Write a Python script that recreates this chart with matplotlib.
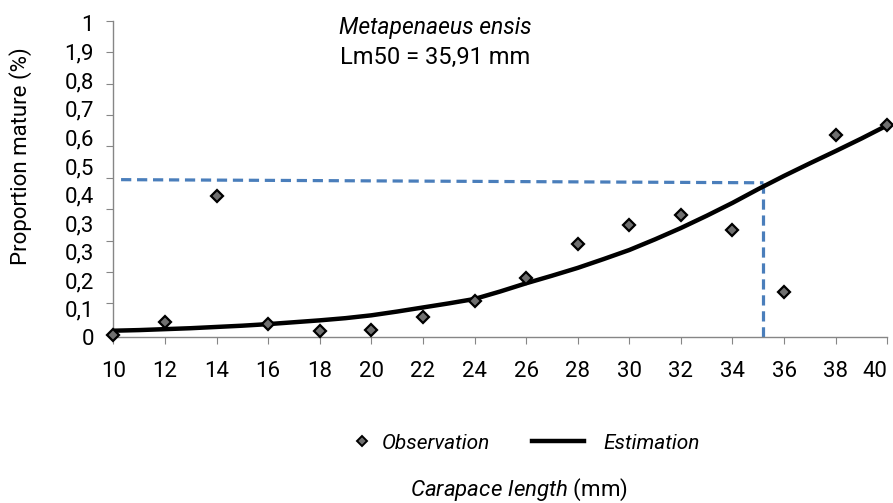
import numpy as np
import matplotlib
matplotlib.use('Agg')
import matplotlib.pyplot as plt
from matplotlib.lines import Line2D

plt.rcParams['font.family'] = ['Roboto', 'DejaVu Sans']
plt.rcParams['mathtext.fontset'] = 'custom'
plt.rcParams['mathtext.rm'] = 'Roboto'
plt.rcParams['mathtext.it'] = 'Roboto:italic'

# carapace length classes (mm) and observed proportion mature
length = [10, 12, 14, 16, 18, 20, 22, 24, 26, 28, 30, 32, 34, 36, 38, 40]
observed = [0.0, 0.042, 0.442, 0.033, 0.013, 0.016, 0.057, 0.109,
            0.181, 0.288, 0.349, 0.383, 0.334, 0.137, 0.637, 0.667]

est_length = list(range(10, 41))
estimated = [0.013, 0.015, 0.018, 0.021, 0.025, 0.029, 0.034, 0.040,
             0.046, 0.053, 0.062, 0.074, 0.087, 0.100, 0.114, 0.138,
             0.164, 0.188, 0.213, 0.241, 0.270, 0.304, 0.340, 0.379,
             0.420, 0.464, 0.506, 0.546, 0.585, 0.625, 0.667]

lm50 = 35.2
lm50_y = [0.494, 0.484]

ytick_pos = np.arange(0, 1.01, 0.1)
ylabel_text = ['0', '0,1', '0,2', '0,3', '0,3', '0,4', '0,5', '0,6',
               '0,7', '0,8', '1,9', '1']

fs = 16

fig = plt.figure(figsize=(8.93, 5.03), dpi=100)
ax = fig.add_axes([0.1269, 0.3294, 0.8667, 0.6294])

ax.plot(est_length, estimated, color='black', lw=3.2, solid_capstyle='round',
        solid_joinstyle='round', zorder=3)
ax.plot(length, observed, ls='none', marker='D', markersize=6.5,
        markerfacecolor='#707070', markeredgecolor='black', markeredgewidth=1.6,
        zorder=4, clip_on=False)

blue = '#4a7ebb'
ax.plot([10.3, lm50], lm50_y, color=blue, lw=2.3, ls=(0, (3.2, 1.8)), zorder=2)
ax.plot([lm50, lm50], [lm50_y[1], -0.008], color=blue, lw=2.3,
        ls=(0, (3.2, 1.8)), zorder=2, clip_on=False)

ax.set_xlim(10, 40)
ax.set_ylim(0, 1)
ax.set_xticks(length)
ax.tick_params(axis='x', direction='out', length=5, color='#868686',
               labelsize=fs, pad=12)
ax.get_xticklabels()[-1].set_horizontalalignment('right')
ax.set_yticks(ytick_pos, labels=[''] * len(ytick_pos))
ax.set_yticks(np.linspace(-0.008, 0.992, 12), labels=ylabel_text, minor=True)
ax.tick_params(axis='y', which='major', direction='out', length=5, color='#868686')
ax.tick_params(axis='y', which='minor', length=0, labelsize=fs, pad=14)

for s in ['top', 'right']:
    ax.spines[s].set_visible(False)
for s in ['left', 'bottom']:
    ax.spines[s].set_color('#868686')
    ax.spines[s].set_linewidth(1.0)

fig.text(21 / 893, 1 - 156 / 503, 'Proportion mature (%)', rotation=90,
         ha='center', va='center', fontsize=fs)

fig.text(0.487, 0.946, 'Metapenaeus ensis', ha='center', va='center',
         fontsize=16.5, style='italic')
fig.text(0.487, 0.885, 'Lm50 = 35,91 mm', ha='center', va='center', fontsize=17)
fig.text(0.581, 0.026, r'$\it{Carapace\ length}$ (mm)', ha='center', va='center',
         fontsize=fs)

obs_handle = Line2D([], [], ls='none', marker='D', markersize=5,
                    markerfacecolor='#707070', markeredgecolor='black',
                    markeredgewidth=1.4)
est_handle = Line2D([], [], color='black', lw=3.2)
leg_font = {'style': 'italic', 'size': 15}
leg1 = fig.legend([obs_handle], ['Observation'], loc='center left',
                  bbox_to_anchor=(352 / 893, 0.119), frameon=False, prop=leg_font,
                  borderpad=0, borderaxespad=0, handlelength=1.0, handletextpad=0.45)
leg2 = fig.legend([est_handle], ['Estimation'], loc='center left',
                  bbox_to_anchor=(532 / 893, 0.119), frameon=False, prop=leg_font,
                  borderpad=0, borderaxespad=0, handlelength=2.5, handletextpad=0.95)

fig.savefig('out.png', dpi=100)
